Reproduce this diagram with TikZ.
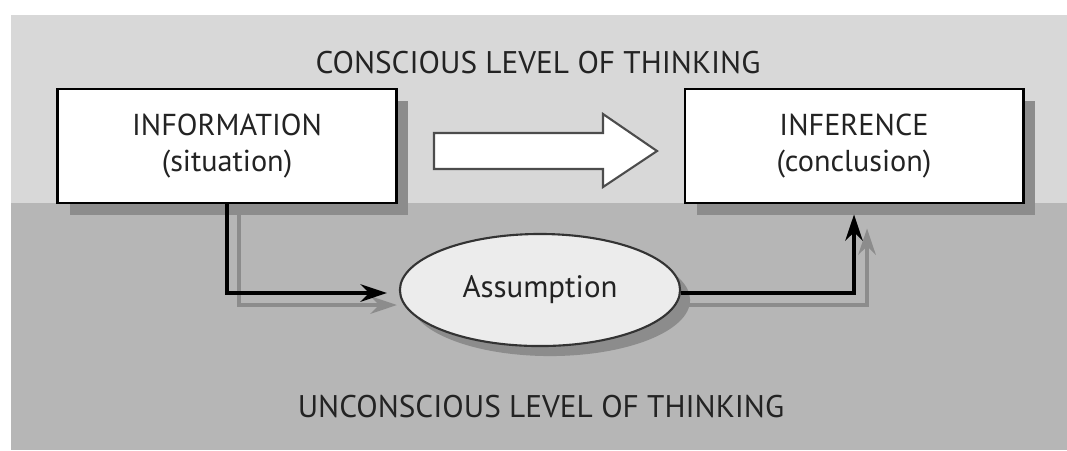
\documentclass[tikz,border=0pt]{standalone}
\usepackage{fontspec}
\setmainfont{PT Sans}
\usetikzlibrary{shapes, arrows.meta, shadows}
\definecolor{upperband}{RGB}{216,216,216}
\definecolor{lowerband}{RGB}{182,182,182}
\definecolor{shadowgray}{RGB}{140,140,140}
\definecolor{ellfill}{RGB}{236,236,236}
\definecolor{txtgray}{RGB}{35,35,35}
\tikzstyle{box} = [rectangle, minimum width=3.38cm, minimum height=1.14cm, text centered, align=center, draw=black, line width=0.8pt, fill=white, text=txtgray, font=\fontsize{8.6}{10.2}\selectfont, drop shadow={shadow xshift=0.12cm, shadow yshift=-0.12cm, fill=shadowgray, opacity=1}]
\tikzstyle{guess} = [ellipse, minimum width=2.8cm, minimum height=1.12cm, draw=black!80, line width=0.6pt, fill=ellfill, text=txtgray, font=\fontsize{8.8}{10.2}\selectfont, drop shadow={shadow xshift=0.1cm, shadow yshift=-0.1cm, fill=shadowgray, opacity=1}]
\tikzstyle{level} = [text=txtgray, font=\fontsize{8.9}{10.2}\selectfont]
\tikzstyle{edge} = [line width=0.9pt, -{Stealth[length=7.5pt, width=5pt]}]
\tikzstyle{edgeshadow} = [edge, draw=shadowgray]
\tikzstyle{hollow} = [draw=black!70, line width=0.6pt, fill=white]

\begin{document}
\begin{tikzpicture}[x=0.01cm, y=-0.01cm]
\useasboundingbox (0,0) rectangle (1067,450);
\fill[upperband] (11,15) rectangle (1067,203);
\fill[lowerband] (11,203) rectangle (1067,450);

\node (top) [level] at (538,63) {CONSCIOUS LEVEL OF THINKING};
\node (bottom) [level] at (541,407) {UNCONSCIOUS LEVEL OF THINKING};

\node (info) [box] at (227,146) {INFORMATION\\(situation)};
\node (infer) [box] at (854,146) {INFERENCE\\(conclusion)};
\node (assum) [guess] at (540,290) {Assumption};

% big hollow arrow between the boxes
\draw [hollow] (434,133) -- (603,133) -- (603,114) -- (657,151) -- (603,187) -- (603,169) -- (434,169) -- cycle;

\draw [edgeshadow] ([xshift=0.12cm]info.south) |- ([xshift=-0.02cm, yshift=-0.15cm]assum.west);
\draw [edgeshadow] ([yshift=-0.15cm]assum.east) -| ([xshift=0.13cm, yshift=-0.24cm]infer.south);
\draw [edge] (info.south) |- ([xshift=-0.12cm, yshift=-0.03cm]assum.west);
\draw [edge] ([yshift=-0.03cm]assum.east) -| ([yshift=-0.1cm]infer.south);

\end{tikzpicture}
\end{document}
